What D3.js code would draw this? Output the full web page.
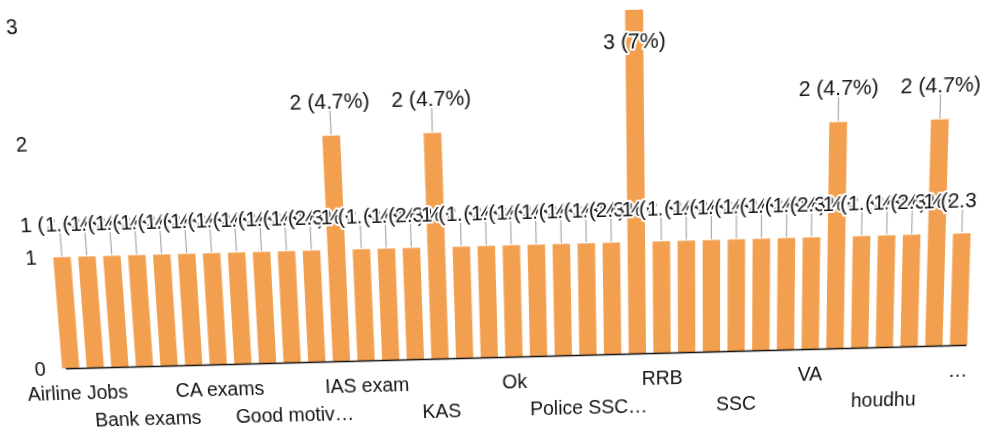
<!DOCTYPE html>
<html>
<head>
<meta charset="utf-8">
<script src="https://cdn.jsdelivr.net/npm/d3@7"></script>
<style>
  html, body { margin: 0; padding: 0; background: #fff; overflow: hidden; }
  #wrap { width: 987px; height: 437px; transform-origin: 500px 357px;
          transform: perspective(1000px) rotateX(-7deg) rotate(-1.5deg); }
  text { font-family: "Liberation Sans", Arial, sans-serif; fill: #141414; }
</style>
</head>
<body>
<div id="wrap"></div>
<script>
// ---- data ----
const categories = [
  "Airline Jobs", "All exams", "Army", "Bank exams", "Banking", "Business",
  "CA exams", "CET", "Defence", "Good motivation", "Govt jobs", "IAS",
  "IAS exam", "IPS", "Job", "KAS", "KPSC", "Nothing",
  "Ok", "PSI", "Police", "Police SSC exams", "Private job", "RPSC",
  "RRB", "Railway", "SDA", "SSC", "SSC CGL", "Teacher",
  "VA", "Village accountant", "good", "houdhu", "jobs", "nice",
  "\u2026"
];
const values = [
  1, 1, 1, 1, 1, 1,
  1, 1, 1, 1, 1, 2,
  1, 1, 1, 2, 1, 1,
  1, 1, 1, 1, 1, 3,
  1, 1, 1, 1, 1, 1,
  1, 2, 1, 1, 1, 2,
  1
];
const yTicks = [0, 1, 2, 3];
const tickEvery = 3;
const tickLabels = ["Airline Jobs", "Bank exams", "CA exams", "Good motiv\u2026", "IAS exam",
  "KAS", "Ok", "Police SSC\u2026", "RRB", "SSC", "VA", "houdhu", "\u2026"];

// ---- chart ----
const W = 987, H = 437;
const total = d3.sum(values);
const pct = d3.format(".2~r");

const svg = d3.select("#wrap").append("svg")
  .attr("width", W).attr("height", H);

const x = d3.scaleBand().domain(categories)
  .range([57.67, 970.33]).paddingInner(0.3).paddingOuter(0.15);
const y = d3.scaleLinear().domain([0, 3]).range([357, 25]);
const bw = x.bandwidth();

// y tick labels
svg.append("g").selectAll("text").data(yTicks).join("text")
  .attr("x", 45).attr("y", d => y(d)).attr("dy", "0.35em")
  .attr("text-anchor", "end").style("font-size", "20px")
  .text(d => d);

// bars
svg.append("g").selectAll("rect").data(categories).join("rect")
  .attr("x", d => x(d)).attr("width", bw)
  .attr("y", (d, i) => y(values[i]))
  .attr("height", (d, i) => y(0) - y(values[i]))
  .attr("fill", "#f2a050");

// baseline
svg.append("line").attr("x1", 65).attr("x2", 966)
  .attr("y1", y(0) + 0.5).attr("y2", y(0) + 0.5)
  .attr("stroke", "#111").attr("stroke-width", 1.6);

// x axis labels (every 3rd category, two staggered rows)
const xAxis = d3.axisBottom(x)
  .tickValues(categories.filter((d, i) => i % tickEvery === 0))
  .tickFormat((d, i) => tickLabels[i]).tickSize(0);
const gx = svg.append("g").attr("transform", `translate(0,${y(0)})`).call(xAxis);
gx.select(".domain").remove();
gx.selectAll("text")
  .attr("x", (d, i) => i === 0 ? 5 : 0)
  .attr("y", (d, i) => 25 + (i % 2) * 28).attr("dy", "0.35em")
  .style("font-size", "19.5px")
  .style("font-family", "'Liberation Sans', Arial, sans-serif")
  .attr("fill", "#141414");

// data labels with leader lines
const labelPos = values.map(v => {
  let ly = y(v) - 33;
  let inside = false;
  if (ly < 20) { ly = y(v) + 29; inside = true; }
  return { ly, inside };
});
svg.append("defs").append("clipPath").attr("id", "clipL")
  .append("rect").attr("x", 0).attr("y", 0).attr("width", 972).attr("height", H);

svg.append("g").selectAll("line").data(categories.filter((d, i) => !labelPos[i].inside)).join("line")
  .attr("x1", d => x(d) + bw / 2).attr("x2", d => x(d) + bw / 2)
  .attr("y1", d => y(values[categories.indexOf(d)]) - 1)
  .attr("y2", d => labelPos[categories.indexOf(d)].ly + 9)
  .attr("stroke", "#9a9a9a").attr("stroke-width", 1);

svg.append("g").attr("clip-path", "url(#clipL)")
  .selectAll("text").data(categories).join("text")
  .attr("x", d => x(d) + bw / 2)
  .attr("y", (d, i) => labelPos[i].ly).attr("dy", "0.35em")
  .attr("text-anchor", "middle").style("font-size", "20.5px")
  .attr("stroke", "#fff").attr("stroke-width", 4).attr("stroke-linejoin", "round")
  .attr("paint-order", "stroke")
  .text((d, i) => `${values[i]} (${pct(values[i] / total * 100)}%)`);
</script>
</body>
</html>
